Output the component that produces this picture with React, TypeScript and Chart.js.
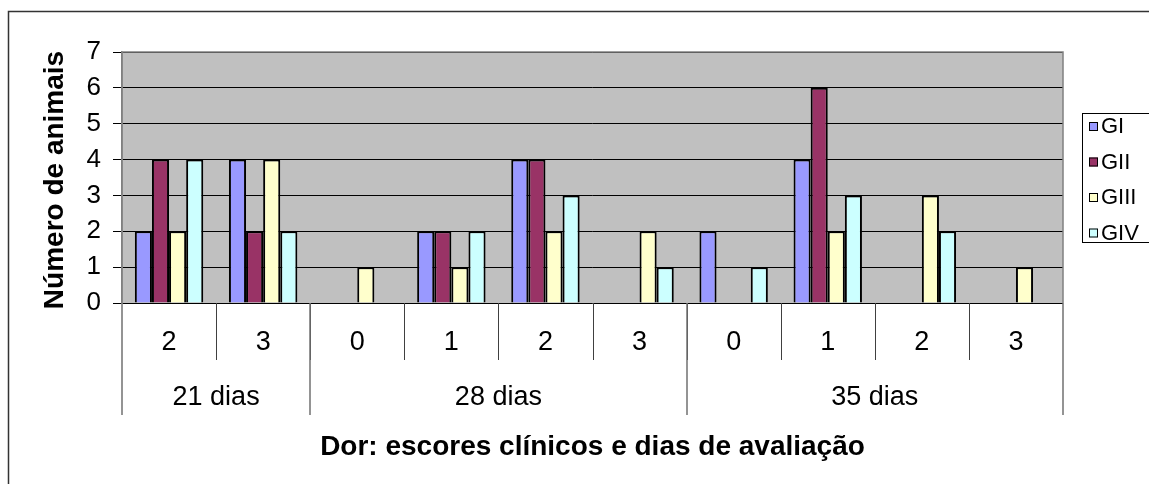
import React, { useEffect, useRef } from "react";
import { Chart, registerables } from "chart.js";

Chart.register(...registerables);

// Evaluation days (outer axis level) and how many score categories each holds
const dayGroups = ["21 dias", "28 dias", "35 dias"];
const dayGroupSizes = [2, 4, 4];

// Clinical pain scores (inner axis level)
const scoreLabels = ["2", "3", "0", "1", "2", "3", "0", "1", "2", "3"];

// Number of animals per group
const seriesNames = ["GI", "GII", "GIII", "GIV"];
const giValues = [2, 4, 0, 2, 4, 0, 2, 4, 0, 0];
const giiValues = [4, 2, 0, 2, 4, 0, 0, 6, 0, 0];
const giiiValues = [2, 4, 1, 1, 2, 2, 0, 2, 3, 1];
const givValues = [4, 2, 0, 2, 3, 1, 1, 3, 2, 0];

const seriesColors = ["#9999FF", "#993366", "#FFFFCC", "#CCFFFF"];

const yTitle = "Número de animais";
const xTitle = "Dor: escores clínicos e dias de avaliação";

const FONT = "'Liberation Sans', Arial, Helvetica, sans-serif";

const decorPlugin = {
  id: "decor",
  beforeDraw(chart: any) {
    const { ctx, chartArea } = chart;
    ctx.save();
    ctx.fillStyle = "#ffffff";
    ctx.fillRect(0, 0, chart.width, chart.height);
    // outer frame
    ctx.strokeStyle = "#333333";
    ctx.lineWidth = 1.5;
    ctx.strokeRect(8.5, 11.5, chart.width + 20, chart.height + 20);
    // plot background
    ctx.fillStyle = "#C0C0C0";
    ctx.fillRect(
      chartArea.left,
      chartArea.top,
      chartArea.right - chartArea.left,
      chartArea.bottom - chartArea.top
    );
    ctx.restore();
  },
  afterDraw(chart: any) {
    const { ctx, chartArea } = chart;
    const xScale = chart.scales.x;
    const n = scoreLabels.length;
    const step = (chartArea.right - chartArea.left) / n;
    const base = chartArea.bottom;
    ctx.save();

    // plot border
    ctx.strokeStyle = "#808080";
    ctx.lineWidth = 1.5;
    ctx.beginPath();
    ctx.moveTo(chartArea.left, chartArea.bottom);
    ctx.lineTo(chartArea.left, chartArea.top);
    ctx.lineTo(chartArea.right, chartArea.top);
    ctx.lineTo(chartArea.right, chartArea.bottom);
    ctx.stroke();

    // inner level: score labels and separators
    ctx.fillStyle = "#000000";
    ctx.font = `27px ${FONT}`;
    ctx.textAlign = "center";
    ctx.textBaseline = "middle";
    for (let i = 0; i < n; i++) {
      ctx.fillText(scoreLabels[i], xScale.getPixelForValue(i), base + 40);
    }
    ctx.strokeStyle = "#404040";
    ctx.lineWidth = 1;
    for (let i = 1; i < n; i++) {
      const x = Math.round(xScale.getPixelForValue(i) - step / 2) + 0.5;
      ctx.beginPath();
      ctx.moveTo(x, base);
      ctx.lineTo(x, base + 57);
      ctx.stroke();
    }

    // outer level: day groups
    let start = 0;
    ctx.strokeStyle = "#707070";
    ctx.lineWidth = 1.5;
    const edges: number[] = [start];
    dayGroupSizes.forEach((size) => {
      start += size;
      edges.push(start);
    });
    edges.forEach((idx) => {
      const x =
        idx < n
          ? xScale.getPixelForValue(idx) - step / 2
          : xScale.getPixelForValue(n - 1) + step / 2;
      ctx.beginPath();
      ctx.moveTo(Math.round(x), base);
      ctx.lineTo(Math.round(x), base + 112);
      ctx.stroke();
    });
    for (let g = 0; g < dayGroups.length; g++) {
      const first = edges[g];
      const last = edges[g + 1] - 1;
      const cx = (xScale.getPixelForValue(first) + xScale.getPixelForValue(last)) / 2;
      ctx.fillText(dayGroups[g], cx, base + 95);
    }

    // axis titles
    ctx.font = `bold 28px ${FONT}`;
    ctx.fillText(xTitle, (chartArea.left + chartArea.right) / 2, 447);
    ctx.save();
    ctx.translate(55, 180);
    ctx.rotate(-Math.PI / 2);
    ctx.fillText(yTitle, 0, 0);
    ctx.restore();

    // legend
    const lx = 1082;
    const ly = 113;
    ctx.fillStyle = "#ffffff";
    ctx.fillRect(lx, ly, 80, 129);
    ctx.strokeStyle = "#000000";
    ctx.lineWidth = 1;
    ctx.strokeRect(lx + 0.5, ly + 0.5, 80, 129);
    ctx.font = `22px ${FONT}`;
    ctx.textAlign = "left";
    chart.data.datasets.forEach((ds: any, i: number) => {
      const cy = 126 + i * 35.5;
      ctx.fillStyle = ds.backgroundColor;
      ctx.fillRect(lx + 7, cy - 4, 9, 9);
      ctx.strokeStyle = "#000000";
      ctx.strokeRect(lx + 7.5, cy - 3.5, 8, 8);
      ctx.fillStyle = "#000000";
      ctx.fillText(ds.label, lx + 19, cy + 1);
    });

    ctx.restore();
  },
};

export default function App() {
  const canvasRef = useRef<HTMLCanvasElement | null>(null);

  useEffect(() => {
    if (!canvasRef.current) return;
    const valueSets = [giValues, giiValues, giiiValues, givValues];
    const chart = new Chart(canvasRef.current, {
      type: "bar",
      data: {
        labels: scoreLabels,
        datasets: seriesNames.map((name, i) => ({
          label: name,
          data: valueSets[i],
          backgroundColor: seriesColors[i],
          borderColor: "#000000",
          borderWidth: 2,
          categoryPercentage: 0.727,
          barPercentage: 1.0,
        })),
      },
      options: {
        responsive: false,
        animation: false,
        devicePixelRatio: 1,
        layout: { padding: { left: 0, top: 52, right: 86, bottom: 181 } },
        plugins: {
          legend: { display: false },
          tooltip: { enabled: false },
        },
        scales: {
          x: {
            display: false,
          },
          y: {
            min: 0,
            max: 7,
            afterFit(scale: any) {
              scale.width = 122;
            },
            ticks: {
              stepSize: 1,
              padding: 12,
              color: "#000000",
              font: { family: FONT, size: 26 },
            },
            grid: {
              color: "#000000",
              lineWidth: 1,
              tickLength: 9,
              tickColor: "#000000",
            },
            border: { display: true, color: "#808080", width: 1.5 },
          },
        },
      },
      plugins: [decorPlugin],
    });
    return () => chart.destroy();
  }, []);

  return (
    <div style={{ position: "fixed", left: 0, top: 0, width: 1149, height: 484 }}>
      <canvas ref={canvasRef} width={1149} height={484} />
    </div>
  );
}
